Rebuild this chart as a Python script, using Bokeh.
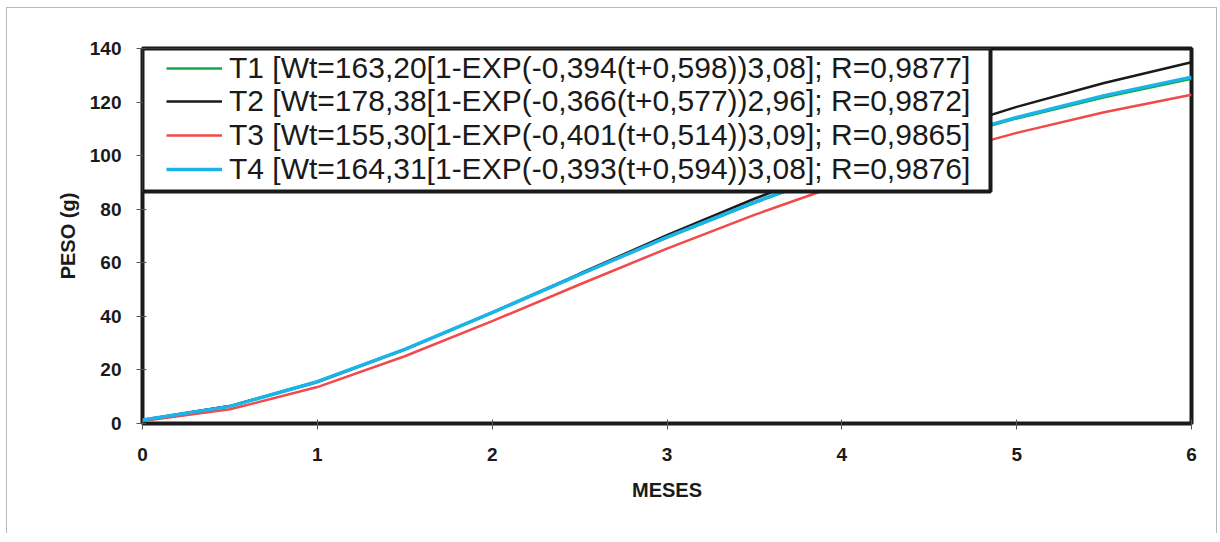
from bokeh.plotting import figure
from bokeh.models import Range1d, FixedTicker, Legend, LegendItem, BoxAnnotation
from bokeh.embed import file_html
from bokeh.resources import INLINE

# Values (months vs weight in g)
meses = [0, 0.5, 1, 1.5, 2, 2.5, 3, 3.5, 4, 4.5, 5, 5.5, 6]
t1 = [1.3, 6.5, 15.7, 27.7, 41.4, 55.6, 69.4, 82.4, 94.2, 104.7, 113.9, 121.8, 128.7]
t2 = [1.3, 6.5, 15.5, 27.6, 41.4, 55.9, 70.3, 83.9, 96.5, 108.0, 118.2, 127.1, 134.9]
t3 = [0.9, 5.3, 13.6, 25.1, 38.2, 51.9, 65.3, 77.9, 89.4, 99.6, 108.5, 116.2, 122.7]
t4 = [1.3, 6.4, 15.6, 27.7, 41.4, 55.6, 69.6, 82.6, 94.5, 105.1, 114.3, 122.4, 129.3]

labels = [
    "T1 [Wt=163,20[1-EXP(-0,394(t+0,598))3,08]; R=0,9877]",
    "T2 [Wt=178,38[1-EXP(-0,366(t+0,577))2,96]; R=0,9872]",
    "T3 [Wt=155,30[1-EXP(-0,401(t+0,514))3,09]; R=0,9865]",
    "T4 [Wt=164,31[1-EXP(-0,393(t+0,594))3,08]; R=0,9876]",
]
x_ticks = [0, 1, 2, 3, 4, 5, 6]
y_ticks = [0, 20, 40, 60, 80, 100, 120, 140]

colors = ["#12a84a", "#1a1a1a", "#f2494a", "#1ab4e8"]
widths = [2.5, 2.5, 2.5, 3.5]

FONT = "Liberation Sans"
INK = "#1a1a1a"
FH = 375  # frame height in px

p = figure(frame_width=1049, frame_height=FH,
           min_border_left=135, min_border_right=25,
           min_border_top=40, min_border_bottom=110,
           x_range=Range1d(0, 6), y_range=Range1d(0, 140),
           output_backend="svg", toolbar_location=None)
p.styles = {"border-top": "1px solid #b8b8b8",
            "border-left": "1px solid #b8b8b8",
            "border-right": "1px solid #b8b8b8",
            "margin-left": "6px",
            "margin-top": "7px"}

p.outline_line_color = INK
p.outline_line_width = 4
p.outline_line_alpha = 1
p.xgrid.visible = False
p.ygrid.visible = False
p.background_fill_color = "white"
p.border_fill_color = "white"

renderers = []
for ys, c, w in zip([t1, t2, t3, t4], colors, widths):
    r = p.line(meses, ys, line_color=c, line_width=w)
    renderers.append(r)

for ax in (p.xaxis[0], p.yaxis[0]):
    ax.axis_line_color = None
    ax.major_tick_line_color = "#555555"
    ax.major_tick_line_width = 1
    ax.major_tick_in = 4
    ax.major_tick_out = 6
    ax.minor_tick_line_color = None
    ax.major_label_text_font = FONT
    ax.major_label_text_font_style = "bold"
    ax.major_label_text_font_size = "19px"
    ax.major_label_text_color = INK
    ax.axis_label_text_font = FONT
    ax.axis_label_text_font_style = "bold"
    ax.axis_label_text_font_size = "20px"
    ax.axis_label_text_color = INK

p.xaxis[0].ticker = FixedTicker(ticks=x_ticks)
p.yaxis[0].ticker = FixedTicker(ticks=y_ticks)
p.xaxis[0].axis_label = "MESES"
p.yaxis[0].axis_label = "PESO (g)"
p.xaxis[0].major_label_standoff = 18
p.yaxis[0].major_label_standoff = 15
p.xaxis[0].axis_label_standoff = 15
p.yaxis[0].axis_label_standoff = 8

# legend frame (white box with heavy border, in screen units from the frame's bottom-left)
box = BoxAnnotation(left=0, right=848, top=FH, bottom=FH - 143,
                    left_units="screen", right_units="screen",
                    top_units="screen", bottom_units="screen",
                    fill_color="white", fill_alpha=1,
                    line_color=INK, line_width=4, line_alpha=1)
p.add_layout(box)

# one single-row legend per series, rows packed inside the box
row_y = [FH - 36.8, FH - 70.4, FH - 104.0, FH - 137.6]
for lab, r, y in zip(labels, renderers, row_y):
    lg = Legend(items=[LegendItem(label=lab, renderers=[r])],
                location=(24, y), margin=0, padding=0, spacing=0,
                glyph_width=56, glyph_height=20, label_standoff=7,
                label_text_font=FONT, label_text_font_size="30px",
                label_text_color=INK,
                border_line_color=None, background_fill_alpha=0)
    p.add_layout(lg)

open("out.html", "w").write(file_html(p, INLINE))
